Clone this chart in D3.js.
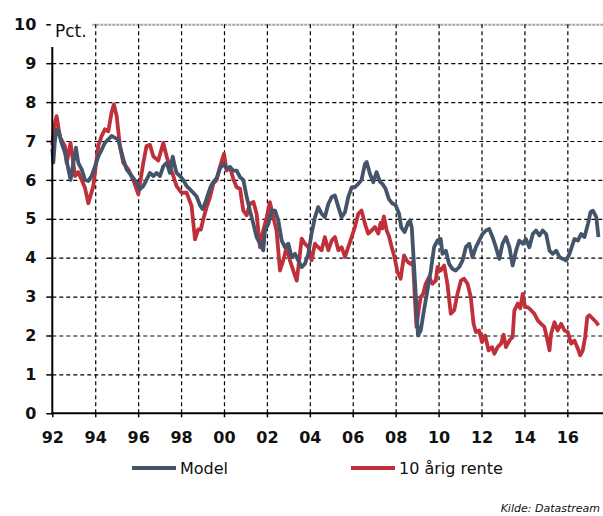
<!DOCTYPE html>
<html lang="da">
	<head>
		<meta charset="utf-8">
		<title>Model og 10 årig rente</title>
        <script type="text/javascript" src="https://cdn.jsdelivr.net/npm/d3@7"></script>
		<style type="text/css">
            body { margin: 0; background: #fff; }
            svg { display: block; }
            .ylab text, .xlab text { font-family: 'DejaVu Sans', Verdana, sans-serif; font-weight: bold; font-size: 16px; fill: #111; }
        </style>
	</head>
	<body>
		<script type="text/javascript">

            var w = 603;
            var h = 516;

            // tick values
            var yTicks = [0, 1, 2, 3, 4, 5, 6, 7, 8, 9, 10];
            var xTicks = [1992, 1994, 1996, 1998, 2000, 2002, 2004, 2006, 2008, 2010, 2012, 2014, 2016];
            var seriesNames = ['Model', '10 årig rente'];

            // [year, pct]
            var modelData = [
                [1992.00,6.8],[1992.05,6.45],[1992.12,7.0],[1992.20,7.3],[1992.30,7.25],[1992.43,6.95],[1992.59,6.7],[1992.75,6.27],
                [1992.85,6.0],[1992.98,6.44],[1993.10,6.83],[1993.21,6.44],[1993.37,6.27],[1993.52,6.0],[1993.68,5.97],[1993.83,6.1],
                [1993.99,6.35],[1994.14,6.6],[1994.30,6.78],[1994.45,6.95],[1994.61,7.04],[1994.76,7.13],[1994.92,7.08],[1995.07,7.04],
                [1995.15,6.87],[1995.31,6.53],[1995.46,6.27],[1995.70,6.1],[1995.93,5.93],[1996.08,5.76],[1996.24,5.84],[1996.39,6.0],
                [1996.55,6.18],[1996.71,6.1],[1996.86,6.18],[1997.02,6.1],[1997.17,6.35],[1997.33,6.44],[1997.48,6.18],[1997.61,6.6],
                [1997.71,6.35],[1997.79,6.18],[1997.95,6.1],[1998.10,6.0],[1998.26,5.84],[1998.41,5.76],[1998.57,5.67],[1998.72,5.58],
                [1998.88,5.35],[1999.00,5.25],[1999.12,5.4],[1999.25,5.62],[1999.38,5.83],[1999.50,5.94],[1999.66,6.05],[1999.81,6.29],
                [1999.97,6.41],[2000.12,6.3],[2000.28,6.33],[2000.43,6.24],[2000.59,6.24],[2000.75,6.07],[2000.90,6.0],[2001.06,5.56],
                [2001.21,5.21],[2001.37,4.87],[2001.52,4.53],[2001.68,4.36],[2001.83,4.19],[2001.91,4.7],[2002.07,4.87],[2002.22,5.21],
                [2002.38,5.21],[2002.53,4.96],[2002.69,4.44],[2002.84,4.27],[2003.00,4.36],[2003.15,4.02],[2003.31,4.1],[2003.46,3.93],
                [2003.62,3.76],[2003.77,3.84],[2003.93,4.1],[2004.08,4.62],[2004.24,5.04],[2004.39,5.3],[2004.55,5.13],[2004.70,5.04],
                [2004.86,5.38],[2005.02,5.56],[2005.17,5.6],[2005.33,5.3],[2005.48,5.04],[2005.64,5.17],[2005.79,5.56],[2005.95,5.81],
                [2006.10,5.81],[2006.26,5.9],[2006.41,6.0],[2006.57,6.41],[2006.65,6.46],[2006.80,6.16],[2006.96,5.94],[2007.11,6.2],
                [2007.27,5.95],[2007.38,5.9],[2007.53,5.77],[2007.69,5.5],[2007.84,5.4],[2008.00,5.35],[2008.16,5.13],[2008.26,4.78],
                [2008.42,4.66],[2008.58,4.9],[2008.67,4.96],[2008.75,4.78],[2008.86,3.76],[2008.97,2.73],[2009.04,2.0],[2009.17,2.13],
                [2009.32,2.65],[2009.48,3.16],[2009.64,3.67],[2009.79,4.27],[2009.95,4.44],[2010.10,4.48],[2010.18,4.1],[2010.34,4.18],
                [2010.49,3.84],[2010.65,3.71],[2010.80,3.67],[2010.96,3.76],[2011.12,3.93],[2011.27,4.27],[2011.43,4.36],[2011.58,4.01],
                [2011.74,4.27],[2011.89,4.44],[2012.05,4.61],[2012.21,4.7],[2012.36,4.74],[2012.52,4.52],[2012.67,4.27],[2012.83,3.97],
                [2012.98,4.36],[2013.14,4.53],[2013.30,4.27],[2013.45,3.8],[2013.61,4.18],[2013.76,4.44],[2013.92,4.36],[2014.07,4.48],
                [2014.23,4.27],[2014.39,4.61],[2014.54,4.7],[2014.70,4.57],[2014.85,4.7],[2015.01,4.61],[2015.17,4.18],[2015.32,4.1],
                [2015.48,4.18],[2015.64,4.01],[2015.79,3.97],[2015.95,3.93],[2016.10,4.1],[2016.26,4.36],[2016.33,4.48],[2016.49,4.44],
                [2016.64,4.61],[2016.80,4.53],[2016.96,4.87],[2017.08,5.17],[2017.19,5.21],[2017.35,5.04],[2017.45,4.53]
            ];

            var renteData = [
                [1992.00,6.9],[1992.08,7.35],[1992.20,7.64],[1992.36,7.1],[1992.59,6.87],[1992.67,6.44],[1992.85,6.95],[1993.06,6.1],
                [1993.21,6.2],[1993.37,6.0],[1993.52,5.8],[1993.68,5.4],[1993.91,5.84],[1994.14,6.87],[1994.30,7.13],[1994.45,7.3],
                [1994.61,7.25],[1994.76,7.73],[1994.87,7.94],[1995.00,7.64],[1995.15,6.87],[1995.31,6.44],[1995.54,6.27],[1995.77,6.0],
                [1996.01,5.63],[1996.24,6.44],[1996.39,6.87],[1996.55,6.9],[1996.71,6.6],[1996.94,6.5],[1997.17,6.95],[1997.33,6.6],
                [1997.48,6.35],[1997.64,6.1],[1997.79,5.84],[1998.02,5.67],[1998.26,5.67],[1998.49,5.33],[1998.65,4.47],[1998.80,4.73],
                [1998.92,4.72],[1999.04,5.0],[1999.19,5.3],[1999.35,5.56],[1999.50,5.9],[1999.66,6.0],[1999.81,6.33],[2000.00,6.67],
                [2000.12,6.24],[2000.28,6.33],[2000.43,6.03],[2000.59,5.81],[2000.75,5.77],[2000.90,5.21],[2001.06,5.09],[2001.21,5.39],
                [2001.37,5.43],[2001.52,5.13],[2001.68,4.27],[2001.83,4.7],[2001.99,5.04],[2002.14,5.43],[2002.30,5.04],[2002.45,4.7],
                [2002.61,3.67],[2002.76,3.93],[2002.92,4.27],[2003.07,3.93],[2003.23,3.67],[2003.39,3.41],[2003.54,4.1],[2003.62,4.49],
                [2003.77,4.36],[2003.93,4.27],[2004.08,3.93],[2004.24,4.36],[2004.39,4.27],[2004.55,4.19],[2004.70,4.53],[2004.86,4.19],
                [2005.02,4.44],[2005.17,4.53],[2005.33,4.19],[2005.48,4.27],[2005.64,4.02],[2005.79,4.27],[2005.95,4.53],[2006.10,4.79],
                [2006.26,5.13],[2006.41,5.21],[2006.57,4.87],[2006.72,4.62],[2006.88,4.7],[2007.03,4.79],[2007.19,4.62],[2007.30,4.9],
                [2007.38,4.75],[2007.45,5.06],[2007.58,4.7],[2007.69,4.55],[2007.80,4.3],[2007.95,4.01],[2008.08,3.64],[2008.23,3.46],
                [2008.39,4.06],[2008.55,3.9],[2008.70,3.84],[2008.81,3.9],[2008.90,2.9],[2008.97,2.22],[2009.09,2.73],[2009.17,2.99],
                [2009.28,3.07],[2009.40,3.33],[2009.56,3.5],[2009.71,3.33],[2009.87,3.41],[2009.95,3.76],[2010.10,3.67],[2010.26,3.8],
                [2010.41,3.33],[2010.57,2.56],[2010.73,2.65],[2010.88,3.07],[2011.04,3.41],[2011.19,3.46],[2011.35,3.33],[2011.50,2.99],
                [2011.63,2.3],[2011.74,2.09],[2011.89,2.13],[2012.02,1.83],[2012.17,2.0],[2012.33,1.62],[2012.49,1.7],[2012.60,1.53],
                [2012.75,1.7],[2012.91,1.79],[2013.03,2.02],[2013.14,1.7],[2013.30,1.87],[2013.45,1.96],[2013.53,2.64],[2013.69,2.82],
                [2013.81,2.7],[2013.92,3.07],[2014.03,2.73],[2014.15,2.73],[2014.31,2.65],[2014.46,2.56],[2014.62,2.39],[2014.78,2.3],
                [2014.93,2.22],[2015.04,1.96],[2015.17,1.62],[2015.24,2.04],[2015.40,2.34],[2015.55,2.13],[2015.71,2.3],[2015.87,2.13],
                [2016.02,2.09],[2016.18,1.79],[2016.33,1.87],[2016.49,1.66],[2016.60,1.49],[2016.72,1.62],[2016.83,1.96],[2016.93,2.47],
                [2017.03,2.52],[2017.19,2.43],[2017.35,2.34],[2017.45,2.26]
            ];

            var modelColor = '#44546a';
            var renteColor = '#c0303a';

            var x0 = 52.3, yTop = 24.3, yBot = 413.3;

            var xScale = d3.scaleLinear()
                        .domain([1992, 2018])
                        .range([x0, x0 + 26 * 21.46]);

            var yScale = d3.scaleLinear()
                        .domain([0, 10])
                        .range([yBot, yTop]);

            var svg = d3.select('body')
                        .append('svg')
                        .attr('width', w)
                        .attr('height', h);

            // horizontal grid (dashed), top line grey
            var hGrid = svg.append('g')
                .attr('transform', 'translate(' + x0 + ',0)')
                .call(d3.axisLeft(yScale).tickValues(yTicks.slice(1)).tickSize(-(w - x0)).tickFormat(''));
            hGrid.select('.domain').remove();
            hGrid.selectAll('line')
                .attr('stroke', function(d) { return d == 10 ? '#a6a6a6' : '#000'; })
                .attr('stroke-width', function(d) { return d == 10 ? 2 : 1.2; })
                .attr('stroke-dasharray', function(d) { return d == 10 ? '3,1' : '4,3'; });

            // vertical grid
            var vGrid = svg.append('g')
                .attr('transform', 'translate(0,' + yBot + ')')
                .call(d3.axisBottom(xScale).tickValues(xTicks.slice(1)).tickSize(-(yBot - yTop)).tickFormat(''));
            vGrid.select('.domain').remove();
            vGrid.selectAll('line')
                .attr('stroke', '#000')
                .attr('stroke-width', 1.2)
                .attr('stroke-dasharray', '4,3');

            var line = d3.line()
                .x(function(d) { return xScale(d[0]); })
                .y(function(d) { return yScale(d[1]); });

            svg.append('path')
                .datum(renteData)
                .attr('d', line)
                .attr('fill', 'none')
                .attr('stroke', renteColor)
                .attr('stroke-width', 3.8)
                .attr('stroke-linejoin', 'round');

            svg.append('path')
                .datum(modelData)
                .attr('d', line)
                .attr('fill', 'none')
                .attr('stroke', modelColor)
                .attr('stroke-width', 3.8)
                .attr('stroke-linejoin', 'round');

            // y axis labels + ticks
            var yAx = svg.append('g')
                .attr('class', 'ylab')
                .attr('transform', 'translate(' + x0 + ',0)')
                .call(d3.axisLeft(yScale).tickValues(yTicks).tickSize(6).tickPadding(10));
            yAx.select('.domain').remove();
            yAx.selectAll('line').attr('stroke', '#000').attr('stroke-width', 1.5);

            // x axis labels + ticks
            var xAx = svg.append('g')
                .attr('class', 'xlab')
                .attr('transform', 'translate(0,' + yBot + ')')
                .call(d3.axisBottom(xScale).tickValues(xTicks).tickSize(4).tickPadding(14)
                    .tickFormat(function(d) { return String(d).slice(2); }));
            xAx.select('.domain').remove();
            xAx.selectAll('line').attr('stroke', '#000').attr('stroke-width', 1.5);

            // Pct. label box
            svg.append('rect')
                .attr('x', x0 - 1.5)
                .attr('y', 14)
                .attr('width', 93 - x0)
                .attr('height', 33)
                .attr('fill', '#fff');

            svg.append('text')
                .text('Pct.')
                .attr('x', 55)
                .attr('y', 37)
                .attr('font-family', "'DejaVu Sans', Verdana, sans-serif")
                .attr('font-size', '17px')
                .attr('fill', '#111');

            // axis lines
            svg.append('line')
                .attr('x1', x0).attr('x2', x0)
                .attr('y1', 47).attr('y2', yBot)
                .attr('stroke', '#000').attr('stroke-width', 2);
            svg.append('line')
                .attr('x1', x0 - 1).attr('x2', w)
                .attr('y1', yBot).attr('y2', yBot)
                .attr('stroke', '#000').attr('stroke-width', 2);

            // legend
            var legendX = [132, 351];
            var legendColors = [modelColor, renteColor];
            var leg = svg.selectAll('.leg')
                .data(seriesNames)
                .enter()
                .append('g')
                .attr('transform', function(d, i) { return 'translate(' + legendX[i] + ',468)'; });
            leg.append('line')
                .attr('x1', 0).attr('x2', 44)
                .attr('stroke', function(d, i) { return legendColors[i]; })
                .attr('stroke-width', 4);
            leg.append('text')
                .text(function(d) { return d; })
                .attr('x', 48)
                .attr('dy', '0.36em')
                .attr('font-family', "'DejaVu Sans', Verdana, sans-serif")
                .attr('font-size', '16px')
                .attr('fill', '#111');

            // source note, right aligned so it stays inside
            svg.append('text')
                .text('Kilde: Datastream')
                .attr('x', w - 3)
                .attr('y', 512)
                .attr('text-anchor', 'end')
                .attr('font-family', "'DejaVu Sans', Verdana, sans-serif")
                .attr('font-style', 'italic')
                .attr('font-size', '11px')
                .attr('fill', '#111');

		</script>
	</body>
</html>
